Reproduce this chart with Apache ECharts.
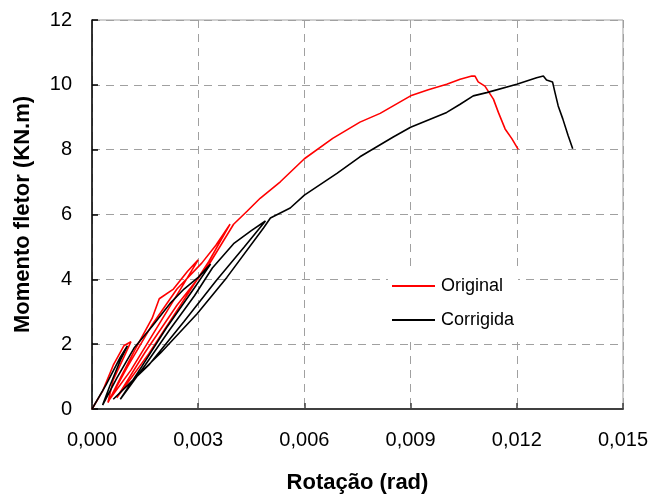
<!DOCTYPE html>
<html>
<head>
<meta charset="utf-8">
<script src="https://cdn.jsdelivr.net/npm/echarts@6/dist/echarts.min.js"></script>
<style>
html,body{margin:0;padding:0;background:#fff;}
#chart{width:651px;height:499px;}
</style>
</head>
<body>
<div id="chart"></div>
<script>
// Series names
const seriesNames = ['Original', 'Corrigida'];

// Original (red): rotation (rad) and moment (kN.m)
const originalRot = [0,0.0003,0.0006,0.0009,0.0011,
  0.0009,0.0006,0.00045,
  0.0008,0.0012,0.0017,0.0019,0.0023,0.0027,0.0030,
  0.0025,0.0018,0.0011,0.0005,
  0.0010,0.0017,0.0024,0.0031,0.0035,0.0039,
  0.0033,0.0025,0.0016,0.0007,
  0.0015,0.0024,0.0033,0.0040,0.00438,0.00475,0.00532,0.0060,0.0068,0.00757,0.00814,0.0090,0.0095,0.01002,0.0104,0.01073,0.01082,0.01091,0.0111,0.01134,0.01148,0.01167,0.01186,0.01204];
const originalMom = [0,0.55,1.35,1.95,2.08,
  1.6,0.9,0.2,
  0.95,1.8,2.8,3.4,3.7,4.25,4.6,
  3.7,2.45,1.2,0.3,
  1.3,2.6,3.7,4.5,5.05,5.7,
  4.55,3.2,1.7,0.35,
  1.75,3.2,4.45,5.7,6.1,6.5,7.01,7.72,8.35,8.85,9.12,9.66,9.85,10.02,10.17,10.27,10.27,10.09,9.96,9.56,9.15,8.64,8.34,8.01];

// Corrigida (black)
const corrigidaRot = [0,0.0004,0.0008,0.0010,
  0.0008,0.0005,0.0003,
  0.0007,0.0012,0.0017,0.0022,0.0026,0.0030,0.00335,
  0.0029,0.0021,0.0014,0.0008,
  0.0015,0.0022,0.0029,0.0034,0.0040,0.0045,0.0049,
  0.0043,0.0035,0.0026,0.0016,0.0006,
  0.00193,0.00297,0.00381,0.00485,0.00504,0.0056,0.0060,0.00692,0.00757,0.00851,0.0090,0.01002,0.0104,0.01077,0.01115,0.0120,0.01256,0.01275,0.01284,0.01301,0.01308,0.01317,0.0133,0.01345,0.01358];
const corrigidaMom = [0,0.75,1.6,1.95,
  1.5,0.7,0.12,
  0.95,1.9,2.55,3.25,3.7,4.06,4.47,
  3.75,2.5,1.3,0.3,
  1.35,2.45,3.5,4.35,5.1,5.5,5.8,
  5.0,3.95,2.7,1.35,0.3,
  1.72,2.94,4.06,5.59,5.89,6.2,6.6,7.27,7.78,8.39,8.69,9.15,9.4,9.66,9.76,10.02,10.22,10.27,10.15,10.09,9.76,9.35,8.95,8.44,8.03];

// Axis tick labels
const xTickLabels = ['0,000','0,003','0,006','0,009','0,012','0,015'];
const yTickLabels = ['0','2','4','6','8','10','12'];

const zip = (a, b) => a.map((v, i) => [v, b[i]]);
const FONT = '"Liberation Sans", Arial, sans-serif';

const chart = echarts.init(document.getElementById('chart'), null, {renderer: 'canvas'});
chart.setOption({
  animation: false,
  backgroundColor: '#fff',
  grid: {left: 92, top: 20, width: 531, height: 393, show: true,
         borderColor: '#a0a0a0', borderWidth: 1, backgroundColor: 'transparent'},
  legend: {
    data: seriesNames.map(n => ({name: n, icon: 'rect'})),
    orient: 'vertical', left: 388, top: 270,
    backgroundColor: '#fff', padding: [6, 4, 6, 4],
    itemWidth: 43, itemHeight: 2, itemGap: 14,
    textStyle: {fontFamily: FONT, fontSize: 18, lineHeight: 20, color: '#000', padding: [0, 0, 0, 1]}
  },
  xAxis: {
    type: 'value', min: 0, max: 0.015, interval: 0.003,
    name: 'Rotação (rad)', nameLocation: 'middle', nameGap: 63,
    nameTextStyle: {fontFamily: FONT, fontSize: 22, fontWeight: 'bold', color: '#000'},
    axisLine: {show: true, onZero: false, lineStyle: {color: '#404040', width: 2}},
    axisTick: {show: true, inside: true, length: 6, lineStyle: {color: '#404040', width: 1.5}},
    axisLabel: {fontFamily: FONT, fontSize: 20, color: '#000', margin: 21,
      formatter: (v) => xTickLabels[Math.round(v / 0.003)]},
    splitLine: {show: true, lineStyle: {color: '#a0a0a0', width: 1, type: [8, 6]}}
  },
  yAxis: {
    type: 'value', min: 0, max: 12, interval: 2,
    name: 'Momento fletor (KN.m)', nameLocation: 'middle', nameGap: 58, nameRotate: 90,
    nameTextStyle: {fontFamily: FONT, fontSize: 22, fontWeight: 'bold', color: '#000'},
    axisLine: {show: true, onZero: false, lineStyle: {color: '#000', width: 1.5}},
    axisTick: {show: true, inside: true, length: 6, lineStyle: {color: '#000', width: 1.5}},
    axisLabel: {fontFamily: FONT, fontSize: 20, color: '#000', margin: 20,
      formatter: (v) => yTickLabels[Math.round(v / 2)]},
    splitLine: {show: true, lineStyle: {color: '#a0a0a0', width: 1, type: [8, 6]}}
  },
  series: [
    {name: seriesNames[0], type: 'line', data: zip(originalRot, originalMom),
     symbol: 'none', color: '#ff0000', lineStyle: {color: '#ff0000', width: 1.6}},
    {name: seriesNames[1], type: 'line', data: zip(corrigidaRot, corrigidaMom),
     symbol: 'none', color: '#000000', lineStyle: {color: '#000000', width: 1.6}}
  ]
});
</script>
</body>
</html>
